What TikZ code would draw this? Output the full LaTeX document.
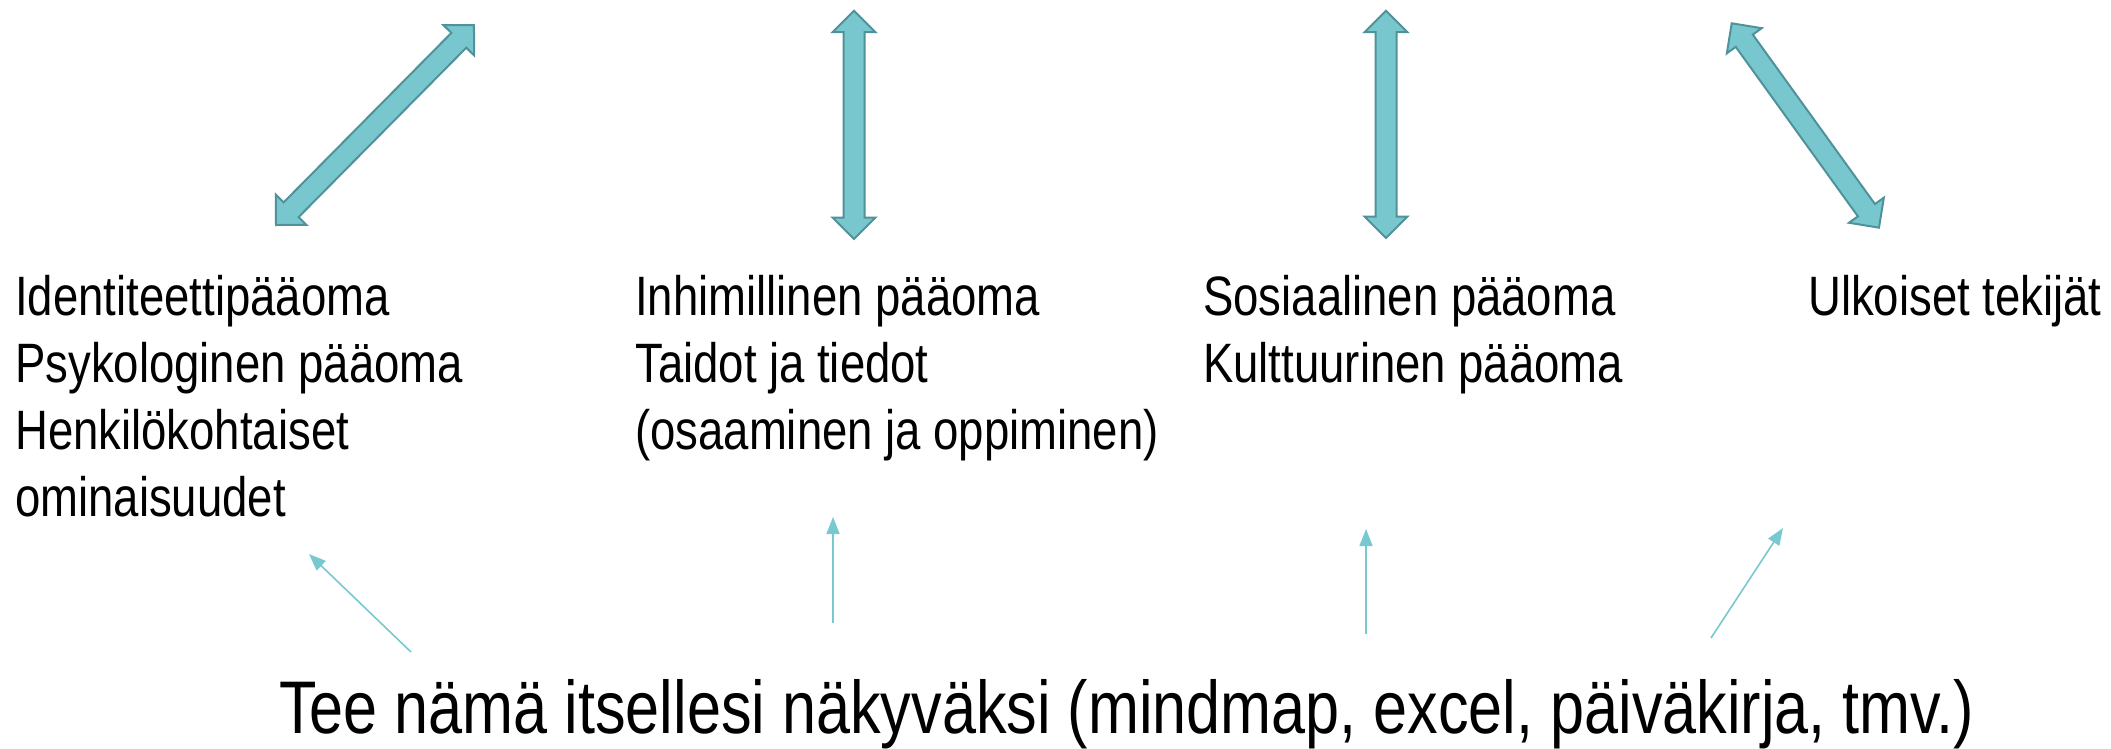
\documentclass[tikz,border=0pt]{standalone}
\usepackage{fontspec}
\setmainfont{Liberation Sans}[FakeStretch=0.82]
\usetikzlibrary{arrows.meta}
\definecolor{tealfill}{HTML}{78C7CF}
\definecolor{tealedge}{HTML}{4F9299}
\definecolor{thinteal}{HTML}{78C8D0}
\tikzset{
  lbl/.style={anchor=north west, inner sep=0pt, align=left, font=\fontsize{55.5}{67}\selectfont},
  bigtitle/.style={anchor=base west, inner sep=0pt, font=\fontsize{74.6}{80}\selectfont},
  blockarr/.style={fill=tealfill, draw=tealedge, line width=2pt, line join=miter},
  thinarr/.style={draw=thinteal, line width=1.6pt, -{Triangle[length=17pt,width=13pt]}},
}
\newcommand\dblarrow[3]{%
  \begin{scope}[shift={(#1)}, rotate=#2]
    \path[blockarr] (0,0) -- (21.5,21.5) -- (21.5,10.5) -- ({#3-21.5},10.5)
      -- ({#3-21.5},21.5) -- (#3,0) -- ({#3-21.5},-21.5) -- ({#3-21.5},-10.5)
      -- (21.5,-10.5) -- (21.5,-21.5) -- cycle;
  \end{scope}}
\begin{document}
\begin{tikzpicture}[x=1pt, y=-1pt]
  \useasboundingbox (0,0) rectangle (2111,748);
  % block arrows
  \dblarrow{276,225}{45.29}{281.4}
  \dblarrow{854,239}{90}{228.3}
  \dblarrow{1386,238}{90}{227.3}
  \dblarrow{1731.7,23.3}{-54.22}{251.9}
  % texts (top of each text block: first baseline 315 minus line height)
  \node[lbl, anchor=base west] (col1) at (15,516) {Identiteettipääoma\\Psykologinen pääoma\\Henkilökohtaiset\\ominaisuudet};
  \node[lbl, anchor=base west] (col2) at (635,449) {Inhimillinen pääoma\\Taidot ja tiedot\\(osaaminen ja oppiminen)};
  \node[lbl, anchor=base west] (col3) at (1203,382) {Sosiaalinen pääoma\\Kulttuurinen pääoma};
  \node[lbl, anchor=base west] (col4) at (1808,315) {Ulkoiset tekijät};
  \node[bigtitle] (title) at (279,733) {Tee nämä itsellesi näkyväksi (mindmap, excel, päiväkirja, tmv.)};
  % thin arrows
  \coordinate (as) at (411,652); \coordinate (ae) at (309,554);
  \coordinate (bs) at (833,623); \coordinate (be) at (833,517);
  \coordinate (cs) at (1366,634); \coordinate (ce) at (1366,529);
  \coordinate (ds) at (1711,638); \coordinate (de) at (1783,528);
  \draw[thinarr] (as) -- (ae);
  \draw[thinarr] (bs) -- (be);
  \draw[thinarr] (cs) -- (ce);
  \draw[thinarr] (ds) -- (de);
\end{tikzpicture}
\end{document}
